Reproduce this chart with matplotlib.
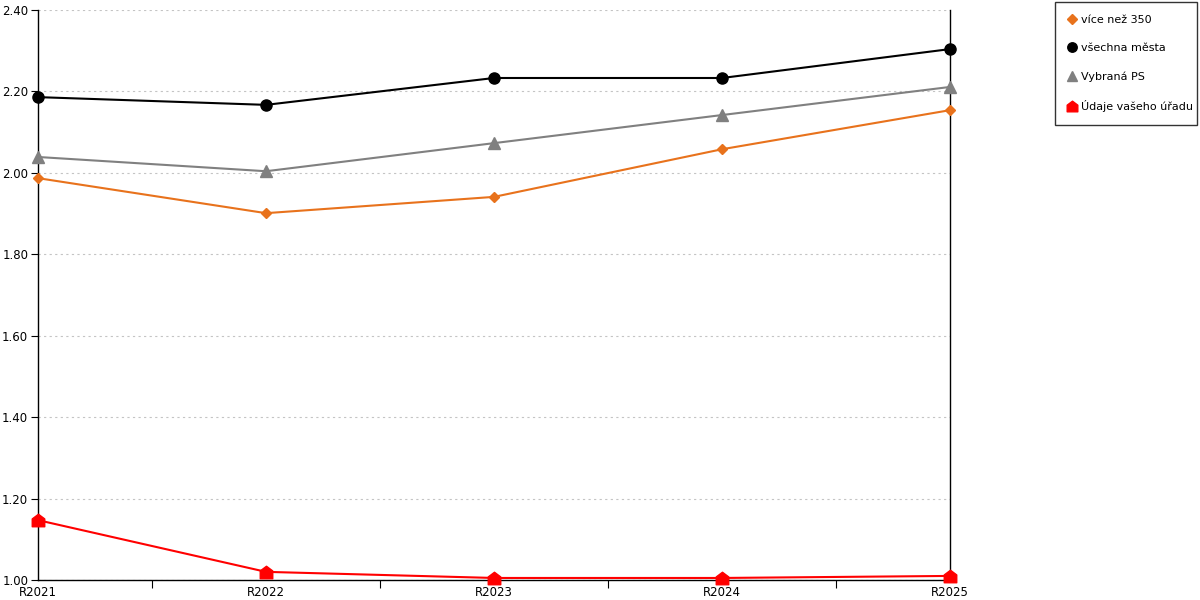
import matplotlib
matplotlib.use("Agg")
import matplotlib.pyplot as plt
from matplotlib.path import Path
from matplotlib.ticker import FixedLocator

years = ["R2021", "R2022", "R2023", "R2024", "R2025"]
vice_nez_350 = [1.987, 1.901, 1.941, 2.058, 2.154]
vsechna_mesta = [2.186, 2.167, 2.233, 2.233, 2.304]
vybrana_ps = [2.039, 2.004, 2.073, 2.142, 2.211]
udaje_uradu = [1.147, 1.020, 1.005, 1.005, 1.010]

plt.rcParams["font.family"] = ["DejaVu Sans"]

# marker ve tvaru domečku
house = Path([(-1, -1), (1, -1), (1, 0.25), (0, 1), (-1, 0.25), (-1, -1)],
             [Path.MOVETO, Path.LINETO, Path.LINETO, Path.LINETO, Path.LINETO, Path.CLOSEPOLY])

fig = plt.figure(figsize=(12, 6), dpi=100)
ax = fig.add_axes([38 / 1200, 20 / 600, 912 / 1200, 570 / 600])
x = list(range(len(years)))

ax.plot(x, vice_nez_350, color="#e8721c", lw=1.5, marker="D", ms=5.5,
        label="více než 350", zorder=3, clip_on=False)
ax.plot(x, vsechna_mesta, color="#000000", lw=1.5, marker="o", ms=8,
        label="všechna města", zorder=3, clip_on=False)
ax.plot(x, vybrana_ps, color="#808080", lw=1.5, marker="^", ms=8,
        label="Vybraná PS", zorder=3, clip_on=False)
ax.plot(x, udaje_uradu, color="#ff0000", lw=1.5, marker=house, ms=9,
        label="Údaje vašeho úřadu", zorder=3, clip_on=False)

ax.set_xlim(0, 4)
ax.set_ylim(1.0, 2.4)
ax.set_xticks(x)
ax.set_xticklabels(years)
ax.xaxis.set_minor_locator(FixedLocator([0.5, 1.5, 2.5, 3.5]))
ax.tick_params(axis="x", which="major", length=0, labelsize=8.5, pad=4)
ax.tick_params(axis="x", which="minor", length=6, width=0.8, direction="out")
ax.set_yticks([1.0, 1.2, 1.4, 1.6, 1.8, 2.0, 2.2, 2.4])
ax.set_yticklabels([f"{v:.2f}" for v in ax.get_yticks()])
ax.tick_params(axis="y", length=5, width=0.8, labelsize=8.5, pad=2)
ax.grid(axis="y", color="#c4c4c4", linestyle=(0, (2, 3)), lw=0.8)
ax.spines["top"].set_visible(False)
for s in ["left", "right", "bottom"]:
    ax.spines[s].set_color("black")
    ax.spines[s].set_linewidth(1)

leg = fig.legend(loc="upper left",
                 bbox_to_anchor=(1055 / 1200, 0, 142 / 1200, 1 - 2 / 600),
                 mode="expand", fontsize=8, frameon=True, fancybox=False,
                 handlelength=0.7, handletextpad=0.5, labelspacing=1.65,
                 borderpad=1.15, borderaxespad=0, markerscale=0.85)
leg.get_frame().set_edgecolor("black")
leg.get_frame().set_linewidth(1)
for h in leg.legend_handles:
    h.set_linestyle("none")

fig.savefig("out.png", dpi=100, facecolor="white")
